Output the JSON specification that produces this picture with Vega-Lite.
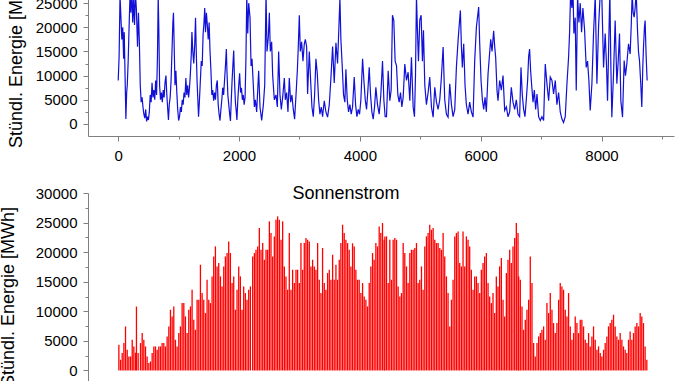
{
"$schema": "https://vega.github.io/schema/vega-lite/v6.json",
"autosize": {"type": "none"},
"padding": {"left": 88, "top": -21, "right": 590, "bottom": 402},
"background": "white",
"config": {
 "view": {"stroke": null},
 "font": "Liberation Sans",
 "axis": {"domainColor": "#7f7f7f", "tickColor": "#7f7f7f", "labelFont": "Liberation Sans", "labelFontSize": 15, "labelColor": "#000000", "titleFont": "Liberation Sans", "titleFontSize": 18, "titleFontWeight": "normal", "titleColor": "#000000", "grid": false, "labelFlush": false, "labelOverlap": false, "tickSize": 5, "domainWidth": 1, "tickWidth": 1},
 "title": {"font": "Liberation Sans", "fontSize": 18, "fontWeight": "normal", "color": "#000000"}
},
"datasets": {
"wind": [
{"h":0,"v":9000},{"h":15,"v":14000},{"h":30,"v":26500},{"h":45,"v":22000},{"h":60,"v":17500},{"h":75,"v":20000},{"h":90,"v":13500},{"h":100,"v":19000},{"h":115,"v":9000},{"h":127,"v":1000},{"h":140,"v":6500},{"h":150,"v":8000},{"h":165,"v":13000},{"h":180,"v":20000},{"h":195,"v":26500},{"h":210,"v":23000},{"h":225,"v":28000},{"h":240,"v":21000},{"h":255,"v":26000},{"h":270,"v":20500},{"h":285,"v":27000},{"h":300,"v":24000},{"h":320,"v":16000},{"h":335,"v":23000},{"h":350,"v":17000},{"h":365,"v":8000},{"h":380,"v":4500},{"h":395,"v":5500},{"h":410,"v":3500},{"h":425,"v":2000},{"h":440,"v":1200},{"h":455,"v":3000},{"h":470,"v":500},{"h":485,"v":1500},{"h":500,"v":800},{"h":515,"v":2500},{"h":530,"v":6000},{"h":545,"v":4500},{"h":560,"v":8500},{"h":575,"v":5500},{"h":590,"v":7000},{"h":605,"v":5000},{"h":620,"v":9000},{"h":635,"v":6000},{"h":650,"v":14000},{"h":662,"v":26500},{"h":672,"v":20000},{"h":685,"v":8000},{"h":700,"v":5000},{"h":715,"v":6500},{"h":730,"v":4500},{"h":745,"v":7000},{"h":760,"v":5500},{"h":775,"v":8500},{"h":790,"v":10000},{"h":805,"v":6000},{"h":820,"v":3000},{"h":832,"v":800},{"h":845,"v":4000},{"h":860,"v":5500},{"h":875,"v":9000},{"h":890,"v":15000},{"h":905,"v":21000},{"h":915,"v":23000},{"h":925,"v":17000},{"h":940,"v":8000},{"h":955,"v":11000},{"h":970,"v":6500},{"h":985,"v":3000},{"h":1000,"v":700},{"h":1015,"v":1500},{"h":1030,"v":3500},{"h":1045,"v":2500},{"h":1060,"v":5000},{"h":1075,"v":4000},{"h":1090,"v":6500},{"h":1105,"v":5500},{"h":1120,"v":9500},{"h":1135,"v":6000},{"h":1150,"v":8000},{"h":1165,"v":5500},{"h":1180,"v":7500},{"h":1195,"v":10500},{"h":1210,"v":14500},{"h":1220,"v":19000},{"h":1235,"v":15000},{"h":1250,"v":12500},{"h":1265,"v":16000},{"h":1280,"v":22000},{"h":1292,"v":15000},{"h":1305,"v":9000},{"h":1320,"v":4500},{"h":1330,"v":1500},{"h":1345,"v":5000},{"h":1360,"v":9000},{"h":1375,"v":13000},{"h":1390,"v":12000},{"h":1405,"v":18500},{"h":1420,"v":21000},{"h":1432,"v":24000},{"h":1445,"v":19000},{"h":1460,"v":23000},{"h":1475,"v":20500},{"h":1490,"v":17500},{"h":1505,"v":21000},{"h":1520,"v":15000},{"h":1535,"v":11000},{"h":1550,"v":6000},{"h":1565,"v":7000},{"h":1580,"v":4800},{"h":1595,"v":6500},{"h":1610,"v":5000},{"h":1625,"v":8000},{"h":1640,"v":9000},{"h":1655,"v":4000},{"h":1670,"v":2000},{"h":1685,"v":700},{"h":1700,"v":3000},{"h":1715,"v":5000},{"h":1730,"v":7500},{"h":1745,"v":6000},{"h":1760,"v":9000},{"h":1775,"v":12000},{"h":1790,"v":15500},{"h":1800,"v":11000},{"h":1815,"v":6000},{"h":1830,"v":4000},{"h":1845,"v":2000},{"h":1858,"v":600},{"h":1870,"v":4500},{"h":1885,"v":9000},{"h":1900,"v":12500},{"h":1912,"v":15200},{"h":1925,"v":9000},{"h":1940,"v":4500},{"h":1955,"v":2500},{"h":1965,"v":800},{"h":1980,"v":5000},{"h":1995,"v":8000},{"h":2010,"v":10500},{"h":2025,"v":6500},{"h":2040,"v":7500},{"h":2055,"v":5000},{"h":2070,"v":6000},{"h":2085,"v":4000},{"h":2100,"v":5500},{"h":2115,"v":14000},{"h":2128,"v":26500},{"h":2144,"v":18700},{"h":2160,"v":25000},{"h":2182,"v":22000},{"h":2199,"v":12000},
{"h":2215,"v":13500},{"h":2254,"v":3500},{"h":2270,"v":5000},{"h":2292,"v":2500},{"h":2325,"v":11000},{"h":2347,"v":3500},{"h":2375,"v":700},{"h":2403,"v":4000},{"h":2425,"v":8000},{"h":2447,"v":27000},{"h":2463,"v":15000},{"h":2485,"v":18000},{"h":2502,"v":23000},{"h":2518,"v":15000},{"h":2540,"v":17000},{"h":2557,"v":10000},{"h":2584,"v":5000},{"h":2612,"v":6000},{"h":2634,"v":3500},{"h":2656,"v":15000},{"h":2678,"v":6000},{"h":2700,"v":3000},{"h":2722,"v":5500},{"h":2750,"v":9500},{"h":2766,"v":5000},{"h":2788,"v":6500},{"h":2810,"v":2500},{"h":2832,"v":9500},{"h":2854,"v":4500},{"h":2876,"v":6000},{"h":2898,"v":3000},{"h":2920,"v":1000},{"h":2943,"v":6000},{"h":2965,"v":11000},{"h":2981,"v":16000},{"h":2998,"v":22500},{"h":3014,"v":15000},{"h":3036,"v":17000},{"h":3058,"v":13000},{"h":3080,"v":16500},{"h":3097,"v":17500},{"h":3119,"v":16000},{"h":3135,"v":6200},{"h":3163,"v":15000},{"h":3185,"v":9000},{"h":3207,"v":3500},{"h":3229,"v":1500},{"h":3251,"v":6000},{"h":3273,"v":13500},{"h":3295,"v":10500},{"h":3317,"v":5000},{"h":3339,"v":2000},{"h":3361,"v":3500},{"h":3383,"v":1500},{"h":3411,"v":4800},{"h":3438,"v":2500},{"h":3466,"v":1400},{"h":3494,"v":4000},{"h":3521,"v":9500},{"h":3549,"v":16000},{"h":3576,"v":8500},{"h":3604,"v":16800},{"h":3631,"v":12500},{"h":3653,"v":20000},{"h":3670,"v":26000},{"h":3686,"v":17500},{"h":3708,"v":12000},{"h":3730,"v":6000},{"h":3752,"v":4500},{"h":3769,"v":11300},{"h":3791,"v":5000},{"h":3813,"v":2500},{"h":3835,"v":4000},{"h":3857,"v":2000},{"h":3879,"v":3500},{"h":3907,"v":9700},{"h":3929,"v":4000},{"h":3951,"v":1500},{"h":3973,"v":3000},{"h":3995,"v":2000},{"h":4017,"v":5000},{"h":4045,"v":13500},{"h":4067,"v":9000},{"h":4089,"v":5000},{"h":4111,"v":3000},{"h":4133,"v":7000},{"h":4155,"v":11700},{"h":4177,"v":6000},{"h":4199,"v":2500},{"h":4221,"v":1000},{"h":4243,"v":3500},{"h":4265,"v":7600},{"h":4292,"v":4000},{"h":4320,"v":2000},{"h":4347,"v":6000},{"h":4375,"v":13000},{"h":4397,"v":5000},{"h":4419,"v":1500},
{"h":4441,"v":1500},{"h":4469,"v":11000},{"h":4496,"v":4800},{"h":4518,"v":7000},{"h":4540,"v":22500},{"h":4562,"v":21400},{"h":4584,"v":13000},{"h":4607,"v":12000},{"h":4629,"v":6000},{"h":4651,"v":4500},{"h":4673,"v":6500},{"h":4695,"v":3500},{"h":4717,"v":5500},{"h":4744,"v":12400},{"h":4772,"v":9000},{"h":4799,"v":10700},{"h":4827,"v":4800},{"h":4854,"v":13800},{"h":4882,"v":3500},{"h":4904,"v":1500},{"h":4921,"v":10000},{"h":4937,"v":26500},{"h":4954,"v":19000},{"h":4970,"v":13000},{"h":4992,"v":21500},{"h":5014,"v":22500},{"h":5036,"v":13000},{"h":5053,"v":19400},{"h":5075,"v":8000},{"h":5102,"v":4000},{"h":5130,"v":6500},{"h":5157,"v":9700},{"h":5185,"v":3500},{"h":5213,"v":1400},{"h":5240,"v":7600},{"h":5268,"v":4500},{"h":5295,"v":3000},{"h":5323,"v":5000},{"h":5350,"v":9700},{"h":5378,"v":15900},{"h":5405,"v":5000},{"h":5433,"v":2000},{"h":5460,"v":1400},{"h":5488,"v":8300},{"h":5516,"v":4000},{"h":5543,"v":1500},{"h":5571,"v":3000},{"h":5598,"v":11700},{"h":5626,"v":17300},{"h":5648,"v":21000},{"h":5664,"v":23500},{"h":5681,"v":16000},{"h":5697,"v":11700},{"h":5719,"v":16600},{"h":5741,"v":8000},{"h":5763,"v":4000},{"h":5791,"v":2000},{"h":5818,"v":4500},{"h":5846,"v":2500},{"h":5874,"v":1400},{"h":5901,"v":13100},{"h":5929,"v":20000},{"h":5951,"v":22500},{"h":5967,"v":24200},{"h":5984,"v":16600},{"h":6006,"v":9000},{"h":6028,"v":5000},{"h":6050,"v":3000},{"h":6072,"v":5500},{"h":6094,"v":2500},{"h":6122,"v":10400},{"h":6144,"v":14000},{"h":6166,"v":17500},{"h":6188,"v":15000},{"h":6215,"v":19300},{"h":6232,"v":16000},{"h":6248,"v":13800},{"h":6270,"v":7000},{"h":6287,"v":4800},{"h":6314,"v":9000},{"h":6342,"v":7000},{"h":6370,"v":10000},{"h":6397,"v":2800},{"h":6425,"v":3500},{"h":6452,"v":1500},{"h":6480,"v":2500},{"h":6507,"v":7600},{"h":6535,"v":4500},{"h":6563,"v":3000},{"h":6590,"v":5000},{"h":6618,"v":2000},{"h":6645,"v":1500},
{"h":6667,"v":11700},{"h":6689,"v":6000},{"h":6711,"v":3000},{"h":6733,"v":1500},{"h":6755,"v":5000},{"h":6777,"v":9000},{"h":6794,"v":14000},{"h":6810,"v":15500},{"h":6827,"v":11000},{"h":6844,"v":8000},{"h":6866,"v":4500},{"h":6888,"v":7000},{"h":6910,"v":3000},{"h":6932,"v":6200},{"h":6959,"v":1500},{"h":6987,"v":700},{"h":7014,"v":1500},{"h":7042,"v":700},{"h":7069,"v":12400},{"h":7097,"v":8300},{"h":7125,"v":4800},{"h":7152,"v":9700},{"h":7180,"v":9000},{"h":7207,"v":6200},{"h":7235,"v":9000},{"h":7262,"v":4000},{"h":7290,"v":6500},{"h":7317,"v":2500},{"h":7345,"v":1000},{"h":7372,"v":300},{"h":7400,"v":1500},{"h":7428,"v":8300},{"h":7455,"v":13800},{"h":7472,"v":19000},{"h":7488,"v":27000},{"h":7510,"v":24000},{"h":7527,"v":28000},{"h":7543,"v":18700},{"h":7565,"v":22000},{"h":7582,"v":6900},{"h":7604,"v":26500},{"h":7626,"v":21000},{"h":7648,"v":25000},{"h":7670,"v":19000},{"h":7692,"v":24000},{"h":7720,"v":19400},{"h":7747,"v":11700},{"h":7769,"v":13000},{"h":7791,"v":9000},{"h":7813,"v":2800},{"h":7841,"v":8300},{"h":7868,"v":18700},{"h":7896,"v":26500},{"h":7924,"v":8300},{"h":7951,"v":20000},{"h":7979,"v":27000},{"h":8006,"v":26000},{"h":8034,"v":11700},{"h":8061,"v":18700},{"h":8083,"v":12000},{"h":8100,"v":4800},{"h":8122,"v":18000},{"h":8138,"v":27500},{"h":8155,"v":12000},{"h":8171,"v":1400},{"h":8199,"v":10400},{"h":8226,"v":21400},{"h":8254,"v":8300},{"h":8276,"v":13000},{"h":8298,"v":18700},{"h":8320,"v":4800},{"h":8348,"v":1400},{"h":8375,"v":13100},{"h":8397,"v":10000},{"h":8419,"v":12400},{"h":8447,"v":16600},{"h":8474,"v":14500},{"h":8491,"v":20000},{"h":8508,"v":27000},{"h":8524,"v":23000},{"h":8541,"v":22100},{"h":8557,"v":24000},{"h":8574,"v":27500},{"h":8596,"v":19400},{"h":8612,"v":15000},{"h":8629,"v":13100},{"h":8651,"v":8000},{"h":8667,"v":3500},{"h":8684,"v":12000},{"h":8695,"v":15900},{"h":8711,"v":20000},{"h":8722,"v":21400},{"h":8739,"v":14000},{"h":8755,"v":9000}
],
"sun": [
{"h":11,"v":4344},{"h":39,"v":1807},{"h":66,"v":2935},{"h":94,"v":4626},{"h":121,"v":7444},{"h":149,"v":3499},{"h":176,"v":2371},{"h":204,"v":2371},{"h":232,"v":5190},{"h":259,"v":4062},{"h":287,"v":3000},{"h":302,"v":10800},{"h":330,"v":2935},{"h":369,"v":4626},{"h":397,"v":6317},{"h":424,"v":5190},{"h":452,"v":4062},{"h":479,"v":2371},{"h":507,"v":1244},{"h":535,"v":1525},{"h":562,"v":2935},{"h":590,"v":4062},{"h":617,"v":4062},{"h":645,"v":3499},{"h":672,"v":4062},{"h":700,"v":4062},{"h":727,"v":4626},{"h":755,"v":4626},{"h":782,"v":4062},{"h":810,"v":5753},{"h":838,"v":7444},{"h":865,"v":10263},{"h":893,"v":9135},{"h":920,"v":10827},{"h":948,"v":5190},{"h":975,"v":4062},{"h":1003,"v":6317},{"h":1030,"v":7444},{"h":1058,"v":11390},{"h":1086,"v":11390},{"h":1113,"v":9135},{"h":1141,"v":6317},{"h":1168,"v":10263},{"h":1196,"v":10827},{"h":1223,"v":13645},{"h":1251,"v":8572},{"h":1278,"v":6881},{"h":1306,"v":11954},{"h":1334,"v":11954},{"h":1361,"v":17873},{"h":1389,"v":13081},{"h":1416,"v":11954},{"h":1444,"v":9699},{"h":1471,"v":15336},{"h":1499,"v":11954},{"h":1526,"v":11390},{"h":1554,"v":15900},{"h":1581,"v":19282},{"h":1609,"v":20973},{"h":1637,"v":17591},{"h":1664,"v":18155},{"h":1692,"v":15900},{"h":1719,"v":14209},{"h":1747,"v":17591},{"h":1774,"v":19282},{"h":1802,"v":19846},{"h":1829,"v":21819},{"h":1857,"v":19846},{"h":1885,"v":14773},{"h":1912,"v":15900},{"h":1940,"v":10263},{"h":1967,"v":13645},{"h":1995,"v":17591},{"h":2022,"v":15900},{"h":2050,"v":10263},{"h":2077,"v":14209},{"h":2105,"v":13081},{"h":2132,"v":11954},{"h":2160,"v":13645},{"h":2188,"v":14209},
{"h":2226,"v":19282},{"h":2254,"v":19846},{"h":2281,"v":20410},{"h":2309,"v":20973},{"h":2336,"v":24074},{"h":2364,"v":20410},{"h":2392,"v":21537},{"h":2419,"v":18718},{"h":2447,"v":20410},{"h":2474,"v":20410},{"h":2502,"v":25201},{"h":2529,"v":23228},{"h":2557,"v":19282},{"h":2584,"v":22664},{"h":2612,"v":25483},{"h":2639,"v":26047},{"h":2667,"v":25483},{"h":2695,"v":22101},{"h":2722,"v":25201},{"h":2750,"v":17591},{"h":2777,"v":15900},{"h":2805,"v":13645},{"h":2832,"v":23228},{"h":2860,"v":13645},{"h":2887,"v":17027},{"h":2915,"v":14773},{"h":2943,"v":17027},{"h":2970,"v":17027},{"h":2998,"v":14773},{"h":3025,"v":21537},{"h":3053,"v":17027},{"h":3080,"v":21537},{"h":3108,"v":22382},{"h":3135,"v":22101},{"h":3163,"v":21819},{"h":3190,"v":17591},{"h":3218,"v":18718},{"h":3246,"v":17591},{"h":3273,"v":17027},{"h":3301,"v":21537},{"h":3328,"v":15336},{"h":3356,"v":13081},{"h":3383,"v":20691},{"h":3411,"v":14773},{"h":3438,"v":13645},{"h":3466,"v":16464},{"h":3494,"v":17027},{"h":3521,"v":15336},{"h":3549,"v":19564},{"h":3576,"v":15336},{"h":3604,"v":17873},{"h":3631,"v":15336},{"h":3659,"v":18718},{"h":3686,"v":21537},{"h":3714,"v":24637},{"h":3741,"v":23228},{"h":3769,"v":22101},{"h":3797,"v":21537},{"h":3824,"v":20410},{"h":3852,"v":17591},{"h":3879,"v":21500},{"h":3907,"v":20973},{"h":3934,"v":17027},{"h":3962,"v":15336},{"h":3989,"v":15336},{"h":4017,"v":13081},{"h":4045,"v":14773},{"h":4072,"v":12518},{"h":4100,"v":11954},{"h":4127,"v":10827},{"h":4155,"v":14773},{"h":4182,"v":17591},{"h":4210,"v":19846},{"h":4237,"v":18718},{"h":4265,"v":21537},{"h":4292,"v":20973},{"h":4320,"v":24355},{"h":4347,"v":23228},{"h":4375,"v":24919},{"h":4402,"v":22101},
{"h":4414,"v":22664},{"h":4441,"v":22664},{"h":4469,"v":14773},{"h":4496,"v":22101},{"h":4524,"v":15336},{"h":4551,"v":22101},{"h":4579,"v":22382},{"h":4607,"v":22101},{"h":4634,"v":14209},{"h":4662,"v":12518},{"h":4689,"v":13081},{"h":4717,"v":21537},{"h":4744,"v":19846},{"h":4772,"v":17591},{"h":4799,"v":14773},{"h":4827,"v":19846},{"h":4854,"v":20410},{"h":4882,"v":20410},{"h":4910,"v":20691},{"h":4937,"v":21537},{"h":4965,"v":14773},{"h":4992,"v":15336},{"h":5020,"v":17591},{"h":5047,"v":13645},{"h":5075,"v":20973},{"h":5102,"v":22664},{"h":5130,"v":23228},{"h":5157,"v":24637},{"h":5185,"v":23792},{"h":5213,"v":24074},{"h":5240,"v":22101},{"h":5268,"v":21537},{"h":5295,"v":21537},{"h":5323,"v":20691},{"h":5350,"v":20410},{"h":5378,"v":23228},{"h":5405,"v":19282},{"h":5433,"v":15900},{"h":5460,"v":13081},{"h":5488,"v":7444},{"h":5516,"v":11954},{"h":5543,"v":15336},{"h":5571,"v":22664},{"h":5598,"v":23228},{"h":5626,"v":23510},{"h":5653,"v":18155},{"h":5681,"v":17591},{"h":5708,"v":23510},{"h":5736,"v":17591},{"h":5763,"v":22664},{"h":5791,"v":22101},{"h":5818,"v":20973},{"h":5846,"v":17027},{"h":5874,"v":13645},{"h":5901,"v":15900},{"h":5929,"v":15900},{"h":5956,"v":14773},{"h":5984,"v":13081},{"h":6011,"v":17027},{"h":6039,"v":18155},{"h":6066,"v":19282},{"h":6094,"v":19846},{"h":6122,"v":14773},{"h":6149,"v":12518},{"h":6177,"v":11390},{"h":6204,"v":13081},{"h":6232,"v":9699},{"h":6259,"v":15900},{"h":6287,"v":14209},{"h":6314,"v":17591},{"h":6342,"v":19000},{"h":6370,"v":11954},{"h":6397,"v":9135},{"h":6425,"v":16464},{"h":6452,"v":18718},{"h":6480,"v":20410},{"h":6507,"v":18155},{"h":6535,"v":20973},{"h":6563,"v":22382},{"h":6590,"v":24919},{"h":6618,"v":23228},
{"h":6629,"v":15900},{"h":6656,"v":15336},{"h":6684,"v":10827},{"h":6711,"v":6881},{"h":6739,"v":8572},{"h":6766,"v":10263},{"h":6794,"v":11954},{"h":6821,"v":19282},{"h":6849,"v":14773},{"h":6877,"v":4626},{"h":6904,"v":2371},{"h":6932,"v":4626},{"h":6959,"v":5753},{"h":6987,"v":6317},{"h":7014,"v":6881},{"h":7042,"v":7444},{"h":7069,"v":5190},{"h":7097,"v":11390},{"h":7125,"v":9699},{"h":7152,"v":13081},{"h":7180,"v":10263},{"h":7207,"v":8008},{"h":7235,"v":6317},{"h":7262,"v":8008},{"h":7290,"v":11954},{"h":7317,"v":14773},{"h":7345,"v":14209},{"h":7372,"v":13645},{"h":7400,"v":10263},{"h":7428,"v":9135},{"h":7455,"v":13081},{"h":7483,"v":7444},{"h":7510,"v":5190},{"h":7538,"v":6317},{"h":7565,"v":9135},{"h":7593,"v":8008},{"h":7620,"v":6317},{"h":7648,"v":8572},{"h":7675,"v":8572},{"h":7703,"v":7444},{"h":7731,"v":5190},{"h":7758,"v":4626},{"h":7786,"v":6317},{"h":7813,"v":4062},{"h":7841,"v":5753},{"h":7868,"v":7444},{"h":7896,"v":5190},{"h":7924,"v":3499},{"h":7951,"v":4062},{"h":7979,"v":2935},{"h":8006,"v":2371},{"h":8034,"v":3499},{"h":8061,"v":4626},{"h":8089,"v":5753},{"h":8116,"v":7444},{"h":8144,"v":8008},{"h":8171,"v":8572},{"h":8199,"v":9417},{"h":8226,"v":7444},{"h":8254,"v":5753},{"h":8282,"v":5190},{"h":8309,"v":6317},{"h":8337,"v":5190},{"h":8364,"v":4062},{"h":8392,"v":3499},{"h":8419,"v":2935},{"h":8447,"v":5190},{"h":8474,"v":6599},{"h":8502,"v":5190},{"h":8530,"v":6317},{"h":8557,"v":7444},{"h":8585,"v":8008},{"h":8612,"v":7444},{"h":8640,"v":9699},{"h":8667,"v":9135},{"h":8695,"v":8008},{"h":8722,"v":4062},{"h":8750,"v":1807}
]
},
"spacing": 57,
"bounds": "flush",
"vconcat": [
{
 "width": 586, "height": 157,
 "layer": [
  {"data": {"name": "wind"}, "mark": {"type": "line", "color": "#1010d8", "strokeWidth": 1.2, "clip": true},
   "encoding": {
    "x": {"field": "h", "type": "quantitative", "scale": {"domain": [-500, 9200], "nice": false, "zero": false}, "axis": {"orient": "bottom", "values": [0, 2000, 4000, 6000, 8000], "title": null, "format": "d", "labelPadding": 7}},
    "y": {"field": "v", "type": "quantitative", "scale": {"domain": [-2500, 30000], "nice": false, "zero": false}, "axis": {"orient": "left", "values": [0, 5000, 10000, 15000, 20000, 25000, 30000], "title": "Stündl. Energie [MWh]", "titlePadding": 10, "format": "d", "labelPadding": 6}}
   }},
  {"data": {"name": "wind"}, "mark": {"type": "point", "opacity": 0},
   "encoding": {
    "x": {"field": "h", "type": "quantitative", "axis": {"orient": "bottom", "values": [1000, 3000, 5000, 7000, 9000], "labels": false, "domain": false, "tickSize": 3, "title": null}},
    "y": {"field": "v", "type": "quantitative", "axis": {"orient": "left", "values": [2500, 7500, 12500, 17500, 22500, 27500], "labels": false, "domain": false, "tickSize": 3, "title": null}}
   }}
 ],
 "resolve": {"axis": {"x": "independent", "y": "independent"}}
},
{
 "width": 586, "height": 207,
 "title": {"text": "Sonnenstrom", "offset": -17, "dx": -35, "anchor": "middle", "fontSize": 18, "font": "Liberation Sans", "fontWeight": "normal"},
 "layer": [
  {"data": {"name": "sun"}, "mark": {"type": "rule", "color": "#ff0000", "strokeWidth": 1.3, "clip": true},
   "encoding": {
    "x": {"field": "h", "type": "quantitative", "scale": {"domain": [-500, 9200], "nice": false, "zero": false}, "axis": {"orient": "bottom", "values": [0, 2000, 4000, 6000, 8000], "title": null, "format": "d", "labelPadding": 7}},
    "y": {"field": "v", "type": "quantitative", "scale": {"domain": [-5000, 30000], "nice": false, "zero": false}, "axis": {"orient": "left", "values": [0, 5000, 10000, 15000, 20000, 25000, 30000], "title": "Stündl. Energie [MWh]", "titlePadding": 18, "format": "d", "labelPadding": 6}},
    "y2": {"datum": 0}
   }},
  {"data": {"name": "sun"}, "mark": {"type": "point", "opacity": 0},
   "encoding": {
    "x": {"field": "h", "type": "quantitative", "axis": {"orient": "bottom", "values": [1000, 3000, 5000, 7000, 9000], "labels": false, "domain": false, "tickSize": 3, "title": null}},
    "y": {"field": "v", "type": "quantitative", "axis": {"orient": "left", "values": [-2500, 2500, 7500, 12500, 17500, 22500, 27500], "labels": false, "domain": false, "tickSize": 3, "title": null}}
   }}
 ],
 "resolve": {"axis": {"x": "independent", "y": "independent"}}
}
]
}
